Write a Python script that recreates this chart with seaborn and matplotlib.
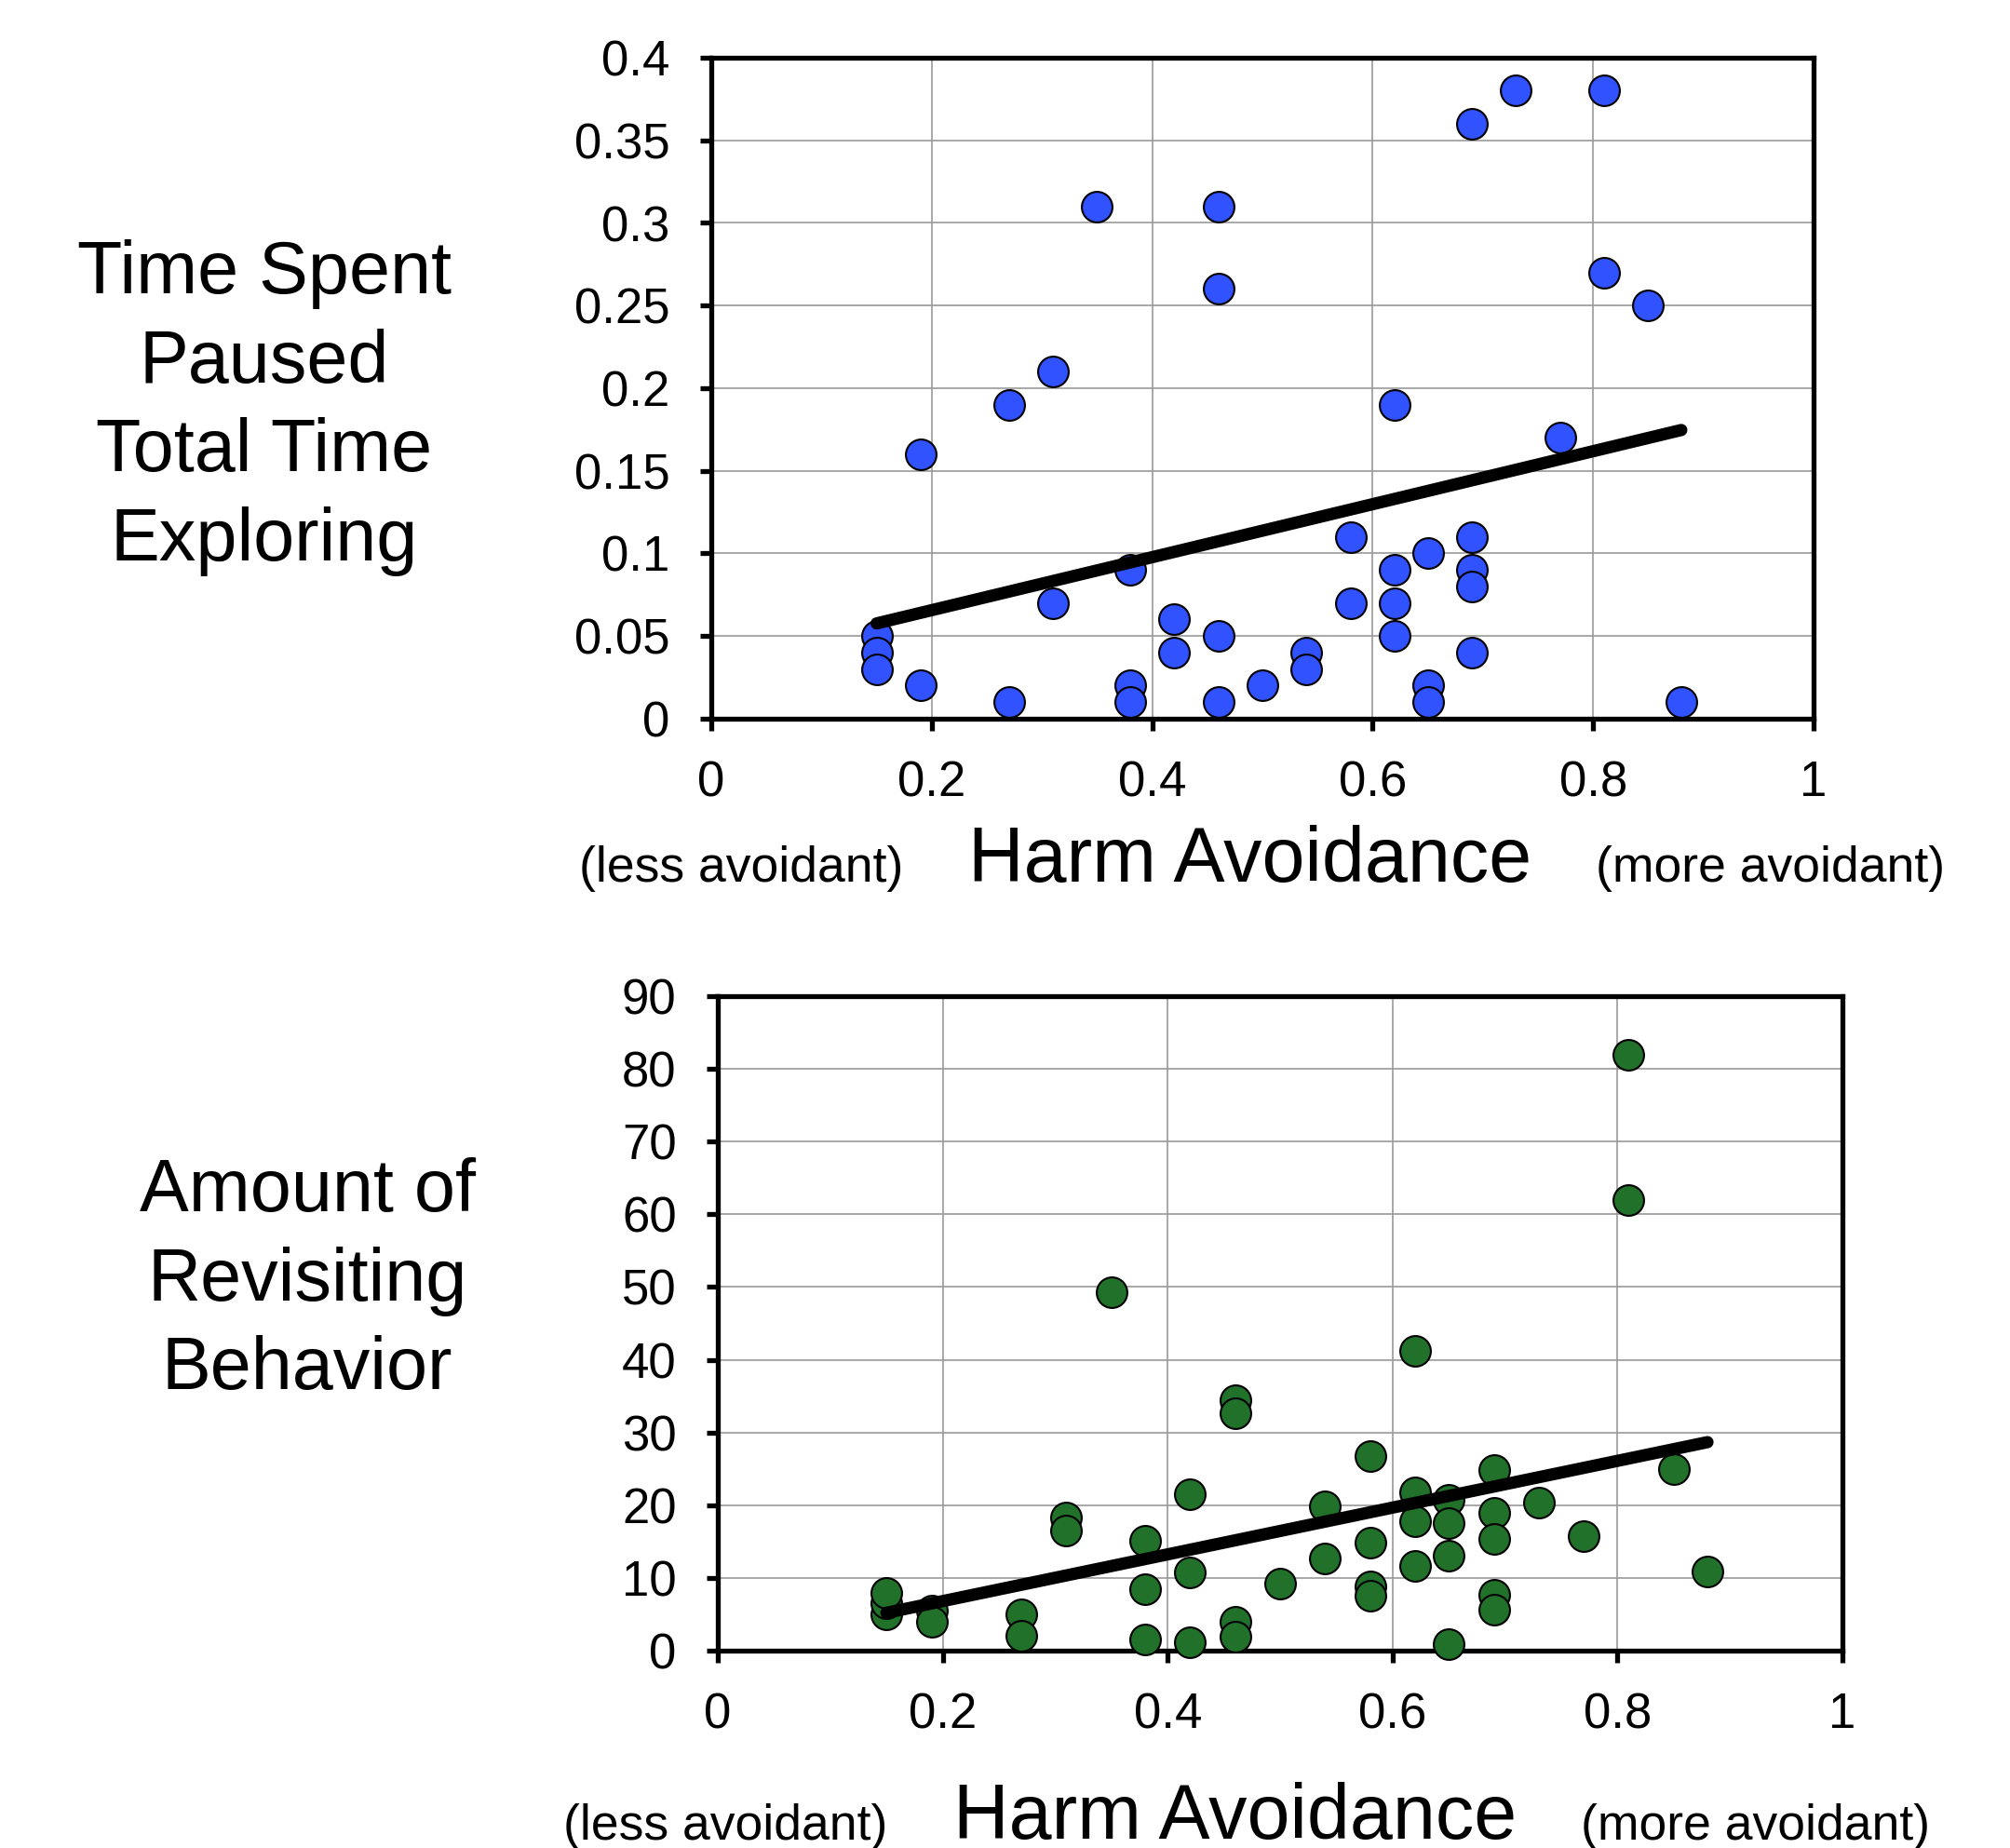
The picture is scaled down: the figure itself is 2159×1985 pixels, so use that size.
import numpy as np
import pandas as pd
import seaborn as sns
import matplotlib
matplotlib.use('Agg')
import matplotlib.pyplot as plt

# ---------------- data ----------------
harm_top = [0.15, 0.15, 0.15, 0.19, 0.19, 0.27, 0.27, 0.31, 0.31, 0.35,
            0.38, 0.38, 0.38, 0.42, 0.42, 0.46, 0.46, 0.46, 0.46, 0.50,
            0.54, 0.54, 0.58, 0.58, 0.62, 0.62, 0.62, 0.62, 0.65, 0.65,
            0.65, 0.69, 0.69, 0.69, 0.69, 0.69, 0.73, 0.77, 0.81, 0.81,
            0.85, 0.88]
paused = [0.05, 0.04, 0.03, 0.16, 0.02, 0.19, 0.01, 0.21, 0.07, 0.31,
          0.09, 0.02, 0.01, 0.06, 0.04, 0.31, 0.26, 0.05, 0.01, 0.02,
          0.04, 0.03, 0.11, 0.07, 0.19, 0.09, 0.07, 0.05, 0.10, 0.02,
          0.01, 0.36, 0.11, 0.09, 0.08, 0.04, 0.38, 0.17, 0.38, 0.27,
          0.25, 0.01]

harm_bottom = [0.15, 0.15, 0.15, 0.19, 0.19, 0.27, 0.27, 0.31, 0.31, 0.35,
               0.38, 0.38, 0.38, 0.42, 0.42, 0.42, 0.46, 0.46, 0.46, 0.46,
               0.50, 0.54, 0.54, 0.58, 0.58, 0.58, 0.58, 0.62, 0.62, 0.62,
               0.62, 0.65, 0.65, 0.65, 0.65, 0.69, 0.69, 0.69, 0.69, 0.69,
               0.73, 0.77, 0.81, 0.81, 0.85, 0.88]
revisit = [5.0, 6.5, 8.0, 5.5, 4.0, 5.0, 2.0, 18.3, 16.5, 49.3,
           15.1, 8.5, 1.6, 21.5, 10.7, 1.2, 34.5, 32.6, 4.0, 1.9,
           9.2, 19.9, 12.7, 26.8, 14.8, 8.8, 7.6, 41.2, 21.7, 17.8,
           11.6, 20.8, 17.6, 13.0, 0.9, 24.8, 19.0, 15.3, 7.7, 5.6,
           20.4, 15.8, 81.9, 62.0, 25.0, 10.9]

x_ticks = [0, 0.2, 0.4, 0.6, 0.8, 1.0]
x_tick_labels = ['0', '0.2', '0.4', '0.6', '0.8', '1']
top_y_ticks = [0, 0.05, 0.1, 0.15, 0.2, 0.25, 0.3, 0.35, 0.4]
top_y_labels = ['0', '0.05', '0.1', '0.15', '0.2', '0.25', '0.3', '0.35', '0.4']
bot_y_ticks = [0, 10, 20, 30, 40, 50, 60, 70, 80, 90]
bot_y_labels = [str(v) for v in bot_y_ticks]

top_ylabel = "Time Spent\nPaused\nTotal Time\nExploring"
bot_ylabel = "Amount of\nRevisiting\nBehavior"
xlabel = "Harm Avoidance"
less_txt = "(less avoidant)"
more_txt = "(more avoidant)"

BLUE = '#3052FF'
GREEN = '#22712A'

# ---------------- style ----------------
sns.set_theme(style='white')
plt.rcParams['font.family'] = ['Liberation Sans', 'DejaVu Sans']
plt.rcParams['text.color'] = 'black'
plt.rcParams['xtick.color'] = 'black'
plt.rcParams['ytick.color'] = 'black'

W, H = 2159, 1985
fig = plt.figure(figsize=(W / 100, H / 100), dpi=100)


def box(l, t, r, b):
    return [l / W, 1 - b / H, (r - l) / W, (b - t) / H]


ax1 = fig.add_axes(box(764, 62, 1948, 772))
ax2 = fig.add_axes(box(771, 1070, 1979, 1773))


def draw(ax, x, y, color, yticks, ylabels):
    df = pd.DataFrame({'x': x, 'y': y})
    sns.scatterplot(data=df, x='x', y='y', ax=ax, s=560, color=color,
                    edgecolor='black', linewidth=1.5, zorder=3, clip_on=False)
    sns.regplot(data=df, x='x', y='y', ax=ax, scatter=False, ci=None,
                truncate=True,
                line_kws=dict(color='black', linewidth=9.5,
                              solid_capstyle='round', zorder=4))
    ax.set_xlim(0, 1)
    ax.set_ylim(yticks[0], yticks[-1])
    ax.set_xticks(x_ticks)
    ax.set_xticklabels(x_tick_labels)
    ax.set_yticks(yticks)
    ax.set_yticklabels(ylabels)
    ax.grid(True, color='#9a9a9a', lw=1.2)
    ax.set_axisbelow(True)
    for sp in ax.spines.values():
        sp.set_visible(True)
        sp.set_color('black')
        sp.set_linewidth(3.8)
    ax.tick_params(axis='both', direction='out', length=9, width=3.8,
                   color='black', labelsize=38, labelcolor='black', pad=23,
                   left=True, bottom=True)
    ax.set_xlabel('')
    ax.set_ylabel('')


draw(ax1, harm_top, paused, BLUE, top_y_ticks, top_y_labels)
draw(ax2, harm_bottom, revisit, GREEN, bot_y_ticks, bot_y_labels)

# labels
fig.text(284 / W, 1 - 438 / H, top_ylabel, ha='center', va='center',
         fontsize=57, linespacing=1.36)
fig.text(330 / W, 1 - 1376 / H, bot_ylabel, ha='center', va='center',
         fontsize=57, linespacing=1.36)

fig.text(1343 / W, 1 - 925 / H, xlabel, ha='center', va='center', fontsize=59.5)
fig.text(796 / W, 1 - 933 / H, less_txt, ha='center', va='center', fontsize=38.5)
fig.text(1902 / W, 1 - 933 / H, more_txt, ha='center', va='center', fontsize=38.5)

fig.text(1327 / W, 1 - 1953 / H, xlabel, ha='center', va='center', fontsize=59.5)
fig.text(779 / W, 1 - 1962 / H, less_txt, ha='center', va='center', fontsize=38.5)
fig.text(1886 / W, 1 - 1962 / H, more_txt, ha='center', va='center', fontsize=38.5)

fig.savefig('out.png', dpi=100)
